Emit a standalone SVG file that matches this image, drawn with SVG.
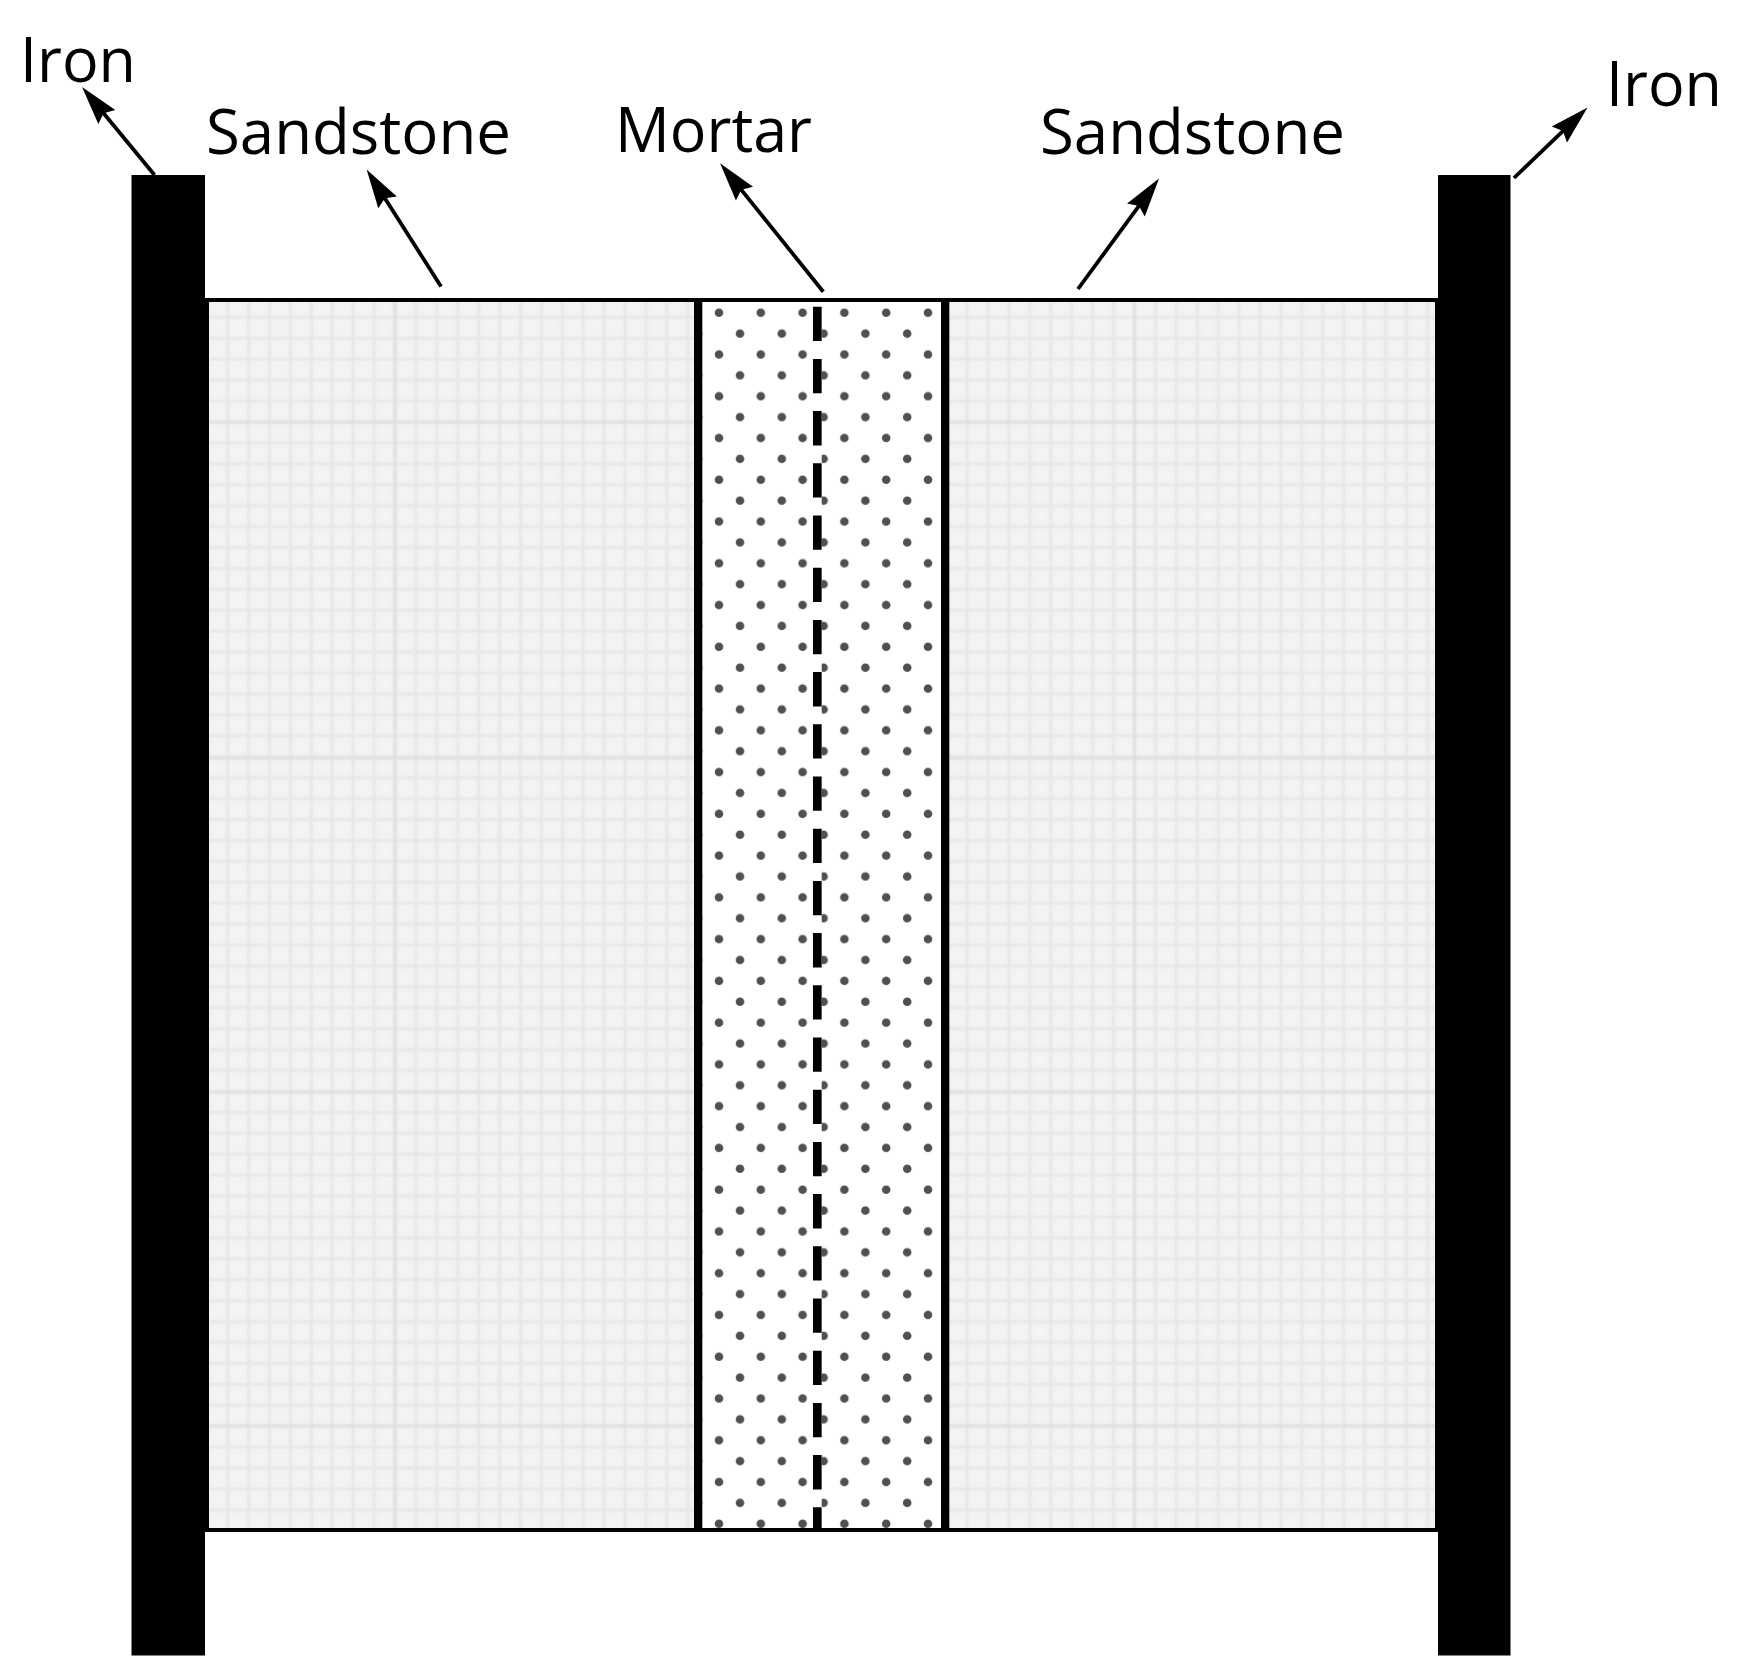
<svg xmlns="http://www.w3.org/2000/svg" width="1737" height="1678" viewBox="0 0 1737 1678">
<style>
.label{font-family:"Open Sans","Noto Sans","Liberation Sans",sans-serif;font-size:63px;fill:#000}
.iron{fill:#000}
.sand{stroke:none}
.major{stroke:#dedede;stroke-width:3;fill:none}
.arrow{stroke:#000;stroke-width:3.8;fill:none;marker-end:url(#head)}
</style>
<defs>
<marker id="head" markerUnits="userSpaceOnUse" markerWidth="44" markerHeight="28" refX="30" refY="14" orient="auto">
<path d="M40 14L1 3L6 14L1 25Z" fill="#000"/>
</marker>
<filter id="soft" x="0" y="0" width="1" height="1"><feGaussianBlur stdDeviation="0.8"/></filter>
<pattern id="gridL" patternUnits="userSpaceOnUse" x="384.54" y="411.54" width="20.92" height="20.92">
<rect width="20.92" height="20.92" fill="#f4f4f4"/>
<path d="M0 5.23H20.92M0 15.69H20.92M5.23 0V20.92M15.69 0V20.92" stroke="#f0f0f0" stroke-width="1"/>
<path d="M10.46 0V20.92M0 10.46H20.92" stroke="#e6e6e6" stroke-width="3"/>
</pattern>
<pattern id="gridR" patternUnits="userSpaceOnUse" x="1124.04" y="411.54" width="20.92" height="20.92">
<rect width="20.92" height="20.92" fill="#f4f4f4"/>
<path d="M0 5.23H20.92M0 15.69H20.92M5.23 0V20.92M15.69 0V20.92" stroke="#f0f0f0" stroke-width="1"/>
<path d="M10.46 0V20.92M0 10.46H20.92" stroke="#e6e6e6" stroke-width="3"/>
</pattern>
<pattern id="dots" patternUnits="userSpaceOnUse" x="705" y="305" width="41.8" height="41.76">
<circle cx="14" cy="7.7" r="4.3" fill="#505050"/>
<circle cx="35" cy="28.6" r="4.3" fill="#505050"/>
</pattern>
</defs>
<rect width="1737" height="1678" fill="#fff"/>
<g id="sandstone-left" filter="url(#soft)">
<rect class="sand" x="205" y="298" width="493" height="1234" fill="url(#gridL)"/>
<path class="major" d="M395 298V1532M205 422H698M205 758H698M205 1092H698M205 1426H698"/>
</g>
<g id="sandstone-right" filter="url(#soft)">
<rect class="sand" x="945" y="298" width="494" height="1234" fill="url(#gridR)"/>
<path class="major" d="M1134.5 298V1532M945 422H1439M945 758H1439M945 1092H1439M945 1426H1439"/>
</g>
<g id="mortar">
<rect x="702" y="302" width="239" height="1226" fill="url(#dots)"/>
<rect x="813" y="302" width="8.7" height="1226" fill="#fff"/>
<path d="M817.3 306.7V1530" stroke="#000" stroke-width="8.7" stroke-dasharray="34.3 17.9" fill="none"/>
<rect x="694" y="298" width="8.3" height="1234"/>
<rect x="941" y="298" width="8.3" height="1234"/>
</g>
<g id="iron-left"><path class="iron" d="M131.5 175H205V298H209V1532H205V1655.5H131.5Z"/></g>
<g id="iron-right"><path class="iron" d="M1438 175H1510.5V1655.5H1438V1532H1435V298H1438Z"/></g>
<g id="boundary"><rect x="205" y="298" width="1233" height="4"/><rect x="205" y="1528" width="1233" height="4"/></g>
<g id="connectors">
<line class="arrow" x1="154.5" y1="175" x2="88.4" y2="94.7"/>
<line class="arrow" x1="441" y1="286.5" x2="372" y2="177.9"/>
<line class="arrow" x1="823.3" y1="291.7" x2="726.3" y2="171.1"/>
<line class="arrow" x1="1078" y1="289" x2="1153.1" y2="186.6"/>
<line class="arrow" x1="1514" y1="178" x2="1580.3" y2="114.4"/>
</g>
<g id="labels">
<text class="label" x="20" y="82" textLength="116" lengthAdjust="spacingAndGlyphs">Iron</text>
<text class="label" x="206" y="153.5" textLength="305" lengthAdjust="spacingAndGlyphs">Sandstone</text>
<text class="label" x="615" y="151.5" textLength="197" lengthAdjust="spacingAndGlyphs">Mortar</text>
<text class="label" x="1040" y="153.5" textLength="305" lengthAdjust="spacingAndGlyphs">Sandstone</text>
<text class="label" x="1606" y="106" textLength="116" lengthAdjust="spacingAndGlyphs">Iron</text>
</g>
</svg>
